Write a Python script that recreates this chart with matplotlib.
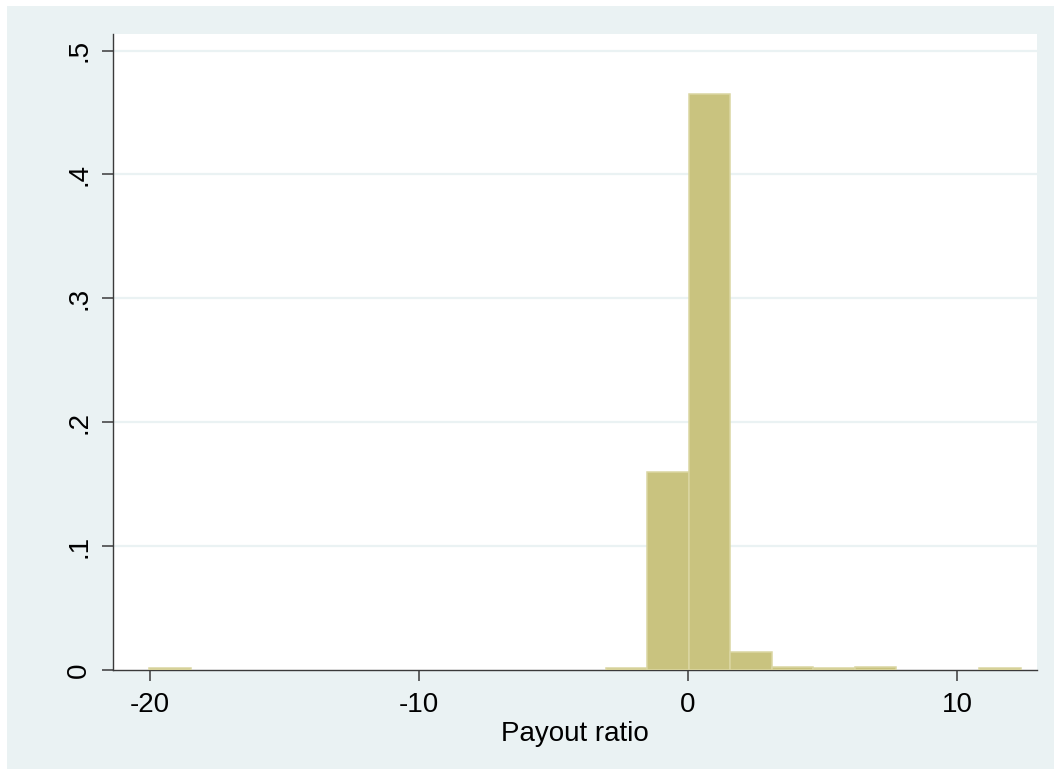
import matplotlib
matplotlib.use("Agg")
import matplotlib.pyplot as plt
from matplotlib.patches import Rectangle

# Histogram data (density), 21 bins
bin_min = -20.03
bin_width = 1.543
heights = [0.0014, 0, 0, 0, 0, 0, 0, 0, 0, 0, 0,
           0.0014, 0.1595, 0.4649, 0.0148, 0.0028, 0.0014, 0.0028, 0, 0, 0.0014]
xticks = [-20, -10, 0, 10]
xtick_labels = ["-20", "-10", "0", "10"]
yticks = [0, 0.1, 0.2, 0.3, 0.4, 0.5]
ytick_labels = ["0", ".1", ".2", ".3", ".4", ".5"]
xlabel = "Payout ratio"

plt.rcParams['font.family'] = ['Liberation Sans', 'DejaVu Sans']

W, H = 1054, 769
bg = '#EAF2F3'
fig = plt.figure(figsize=(W / 100, H / 100), dpi=100, facecolor=bg)
# thin white strips along top and left edges
fig.patches.append(Rectangle((0, 1 - 6 / H), 1, 6 / H, transform=fig.transFigure,
                             facecolor='white', edgecolor='none', zorder=-5))
fig.patches.append(Rectangle((0, 0), 7 / W, 1, transform=fig.transFigure,
                             facecolor='white', edgecolor='none', zorder=-5))

ax = fig.add_axes([113 / W, 1 - 670 / H, (1037 - 113) / W, (670 - 33.7) / H])
ax.set_facecolor('white')

lefts = [bin_min + i * bin_width for i in range(len(heights))]
for x, h in zip(lefts, heights):
    if h > 0:
        ax.bar(x, h, width=bin_width, align='edge', color='#C9C37F',
               edgecolor='#DAD6A2', linewidth=1.1, zorder=3)

ax.set_xlim(-21.38, 12.97)
ax.set_ylim(0, 0.5136)

ax.set_xticks(xticks)
ax.set_xticklabels(xtick_labels)
ax.set_yticks(yticks)
ax.set_yticklabels(ytick_labels, rotation=90, va='center')

for y in yticks[1:]:
    ax.axhline(y, color=bg, linewidth=1.6, zorder=1)

for s in ['top', 'right']:
    ax.spines[s].set_visible(False)
for s in ['left', 'bottom']:
    ax.spines[s].set_color('#3a3a3a')
    ax.spines[s].set_linewidth(1.0)

ax.tick_params(axis='both', length=8, width=1.1, color='#3a3a3a', labelsize=20,
               labelcolor='black')
ax.tick_params(axis='x', pad=8)
ax.tick_params(axis='y', pad=7)

ax.set_xlabel(xlabel, fontsize=20, labelpad=2)

fig.savefig('out.png', dpi=100, facecolor=fig.get_facecolor())
